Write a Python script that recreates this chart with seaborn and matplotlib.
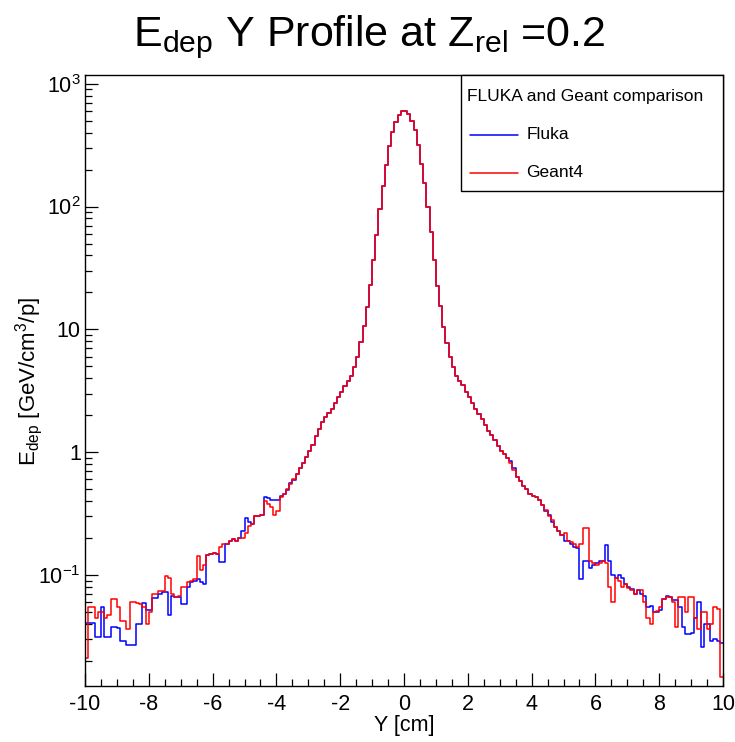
import numpy as np
import pandas as pd
import matplotlib
matplotlib.use("Agg")
import matplotlib.pyplot as plt
from matplotlib.ticker import FixedLocator, LogLocator, NullFormatter, MultipleLocator
from matplotlib.lines import Line2D
from matplotlib.patches import Rectangle
import seaborn as sns

# ---------------- data ----------------
bin_low, bin_high, n_bins = -10.0, 10.0, 200

fluka = [
    0.041, 0.041, 0.041, 0.031, 0.031, 0.055, 0.031, 0.031, 0.038, 0.038,
    0.037, 0.029, 0.029, 0.027, 0.027, 0.027, 0.040, 0.040, 0.059, 0.052,
    0.052, 0.065, 0.065, 0.070, 0.072, 0.072, 0.047, 0.068, 0.066, 0.066,
    0.058, 0.058, 0.080, 0.088, 0.090, 0.092, 0.087, 0.085, 0.145, 0.148,
    0.150, 0.148, 0.127, 0.127, 0.180, 0.190, 0.195, 0.190, 0.200, 0.230,
    0.290, 0.270, 0.260, 0.300, 0.300, 0.310, 0.430, 0.420, 0.410, 0.410,
    0.410, 0.440, 0.460, 0.490, 0.560, 0.590, 0.660, 0.740, 0.820, 0.920,
    1.02, 1.15, 1.35, 1.55, 1.75, 1.95, 2.10, 2.25, 2.50, 2.80,
    3.10, 3.45, 3.80, 4.20, 4.90, 6.00, 7.90, 10.7, 15.2, 23.0,
    37.0, 59.0, 95.0, 148, 219, 309, 405, 490, 560, 605,
    605, 569, 500, 417, 316, 224, 155, 100, 62.0, 37.0,
    22.4, 15.5, 10.5, 7.80, 5.90, 4.90, 4.20, 3.80, 3.50, 3.10,
    2.80, 2.50, 2.25, 2.05, 1.86, 1.65, 1.50, 1.38, 1.26, 1.12,
    1.03, 0.97, 0.90, 0.85, 0.74, 0.63, 0.58, 0.53, 0.50, 0.46,
    0.44, 0.43, 0.41, 0.37, 0.33, 0.31, 0.27, 0.245, 0.23, 0.21,
    0.19, 0.19, 0.18, 0.17, 0.165, 0.093, 0.13, 0.13, 0.115, 0.12,
    0.125, 0.13, 0.13, 0.175, 0.13, 0.10, 0.095, 0.10, 0.095, 0.085,
    0.080, 0.077, 0.070, 0.075, 0.070, 0.068, 0.055, 0.056, 0.050, 0.050,
    0.052, 0.064, 0.068, 0.066, 0.062, 0.063, 0.055, 0.038, 0.033, 0.033,
    0.034, 0.045, 0.060, 0.026, 0.040, 0.040, 0.029, 0.030, 0.029, 0.028,
]

geant4 = [
    0.021, 0.055, 0.055, 0.045, 0.050, 0.050, 0.045, 0.047, 0.064, 0.064,
    0.055, 0.042, 0.042, 0.036, 0.060, 0.060, 0.059, 0.058, 0.055, 0.040,
    0.050, 0.070, 0.070, 0.074, 0.074, 0.098, 0.095, 0.070, 0.066, 0.068,
    0.080, 0.080, 0.088, 0.090, 0.092, 0.142, 0.110, 0.120, 0.145, 0.148,
    0.150, 0.148, 0.170, 0.180, 0.180, 0.190, 0.195, 0.190, 0.200, 0.200,
    0.220, 0.250, 0.260, 0.300, 0.300, 0.310, 0.400, 0.380, 0.360, 0.310,
    0.330, 0.430, 0.460, 0.500, 0.550, 0.600, 0.660, 0.740, 0.820, 0.920,
    1.02, 1.15, 1.35, 1.55, 1.75, 1.95, 2.10, 2.25, 2.50, 2.80,
    3.10, 3.45, 3.80, 4.20, 4.90, 6.00, 7.90, 10.7, 15.2, 23.0,
    37.0, 59.0, 95.0, 148, 219, 309, 405, 490, 560, 605,
    605, 569, 500, 417, 316, 224, 155, 100, 62.0, 37.0,
    22.4, 15.5, 10.5, 7.80, 5.90, 4.90, 4.20, 3.80, 3.50, 3.10,
    2.80, 2.50, 2.25, 2.05, 1.86, 1.65, 1.50, 1.38, 1.26, 1.12,
    1.03, 0.97, 0.90, 0.82, 0.72, 0.63, 0.58, 0.53, 0.50, 0.46,
    0.44, 0.43, 0.41, 0.37, 0.34, 0.30, 0.28, 0.245, 0.23, 0.21,
    0.22, 0.19, 0.185, 0.18, 0.17, 0.18, 0.24, 0.24, 0.13, 0.125,
    0.12, 0.125, 0.13, 0.125, 0.080, 0.060, 0.095, 0.090, 0.080, 0.085,
    0.078, 0.075, 0.070, 0.075, 0.075, 0.060, 0.045, 0.040, 0.050, 0.051,
    0.055, 0.064, 0.066, 0.066, 0.060, 0.038, 0.066, 0.066, 0.050, 0.066,
    0.066, 0.045, 0.036, 0.050, 0.050, 0.036, 0.040, 0.055, 0.053, 0.0147,
]

x_ticks = [-10, -8, -6, -4, -2, 0, 2, 4, 6, 8, 10]
y_ticks = [0.1, 1, 10, 100, 1000]
y_tick_labels = ["10$^{-1}$", "1", "10", "10$^{2}$", "10$^{3}$"]

title = "E$_{dep}$ Y Profile at Z$_{rel}$ =0.2"
x_title = "Y [cm]"
y_title = "E$_{dep}$ [GeV/cm$^{3}$/p]"
legend_header = "FLUKA and Geant comparison"
series_names = ["Fluka", "Geant4"]
series_colors = ["#0000ff", "#ff0000"]

# ---------------- plot ----------------
sns.set_style("white")
plt.rcParams["font.family"] = ["Liberation Sans", "DejaVu Sans"]
plt.rcParams["mathtext.default"] = "regular"
plt.rcParams["axes.unicode_minus"] = False
plt.rcParams["text.color"] = "black"
plt.rcParams["xtick.color"] = "black"
plt.rcParams["ytick.color"] = "black"

bin_width = (bin_high - bin_low) / n_bins
centers = bin_low + bin_width * (np.arange(n_bins) + 0.5)
df = pd.DataFrame({"y": np.concatenate([centers, centers]),
                   "edep": np.concatenate([fluka, geant4]),
                   "code": [series_names[0]] * n_bins + [series_names[1]] * n_bins})

fig = plt.figure(figsize=(7.35, 7.42), dpi=100)
ax = fig.add_axes([85 / 735, 1 - 686 / 742, (723 - 85) / 735, (686 - 75) / 742])

for name, col in zip(series_names, series_colors):
    sub = df[df["code"] == name]
    sns.histplot(data=sub, x="y", weights="edep", binwidth=bin_width,
                 binrange=(bin_low, bin_high), element="step",
                 fill=False, color=col, linewidth=1.1, ax=ax, legend=False)

ax.set_yscale("log")
ax.set_xlim(bin_low, bin_high)
ax.set_ylim(0.01247, 1178)
ax.set_xlabel("")
ax.set_ylabel("")

ax.xaxis.set_major_locator(FixedLocator(x_ticks))
ax.xaxis.set_minor_locator(MultipleLocator(0.5))
ax.set_xticklabels([str(t) for t in x_ticks])
ax.yaxis.set_major_locator(FixedLocator(y_ticks))
ax.set_yticklabels(y_tick_labels)
ax.yaxis.set_minor_locator(LogLocator(base=10, subs=np.arange(2, 10), numticks=20))
ax.yaxis.set_minor_formatter(NullFormatter())

ax.tick_params(axis="both", which="both", bottom=True, left=True, top=False,
               right=False, direction="in", color="black")
ax.tick_params(axis="both", which="major", length=9.7, width=0.9,
               labelsize=15.5, labelcolor="black")
ax.tick_params(axis="both", which="minor", length=4.7, width=0.9)
ax.tick_params(axis="x", which="major", pad=6)
ax.tick_params(axis="y", which="major", pad=3)
for s in ax.spines.values():
    s.set_visible(True)
    s.set_color("black")
    s.set_linewidth(1.0)
ax.grid(False)

# titles
fig.text(0.503, 1 - 46 / 742, title, ha="center", va="baseline", fontsize=31)
fig.text(404 / 735, 1 - 726 / 742, x_title, ha="center", va="center", fontsize=15.5)
fig.text(29 / 735, 1 - 381 / 742, y_title, ha="center", va="center",
         rotation=90, fontsize=16)

# legend box
tr = ax.transAxes
ax.add_patch(Rectangle((0.589, 0.810), 0.411, 0.190, transform=tr,
                       facecolor="white", edgecolor="black", linewidth=1.0,
                       zorder=5, clip_on=False))
ax.text(0.599, 0.964, legend_header, transform=tr, ha="left", va="center",
        fontsize=12.5, zorder=6)
for yy, name, col in zip([0.902, 0.840], series_names, series_colors):
    ax.add_line(Line2D([0.603, 0.678], [yy, yy], transform=tr, color=col,
                       linewidth=1.1, zorder=6))
    ax.text(0.692, yy, name, transform=tr, ha="left", va="center",
            fontsize=12.5, zorder=6)

fig.savefig("out.png", dpi=100, facecolor="white")
